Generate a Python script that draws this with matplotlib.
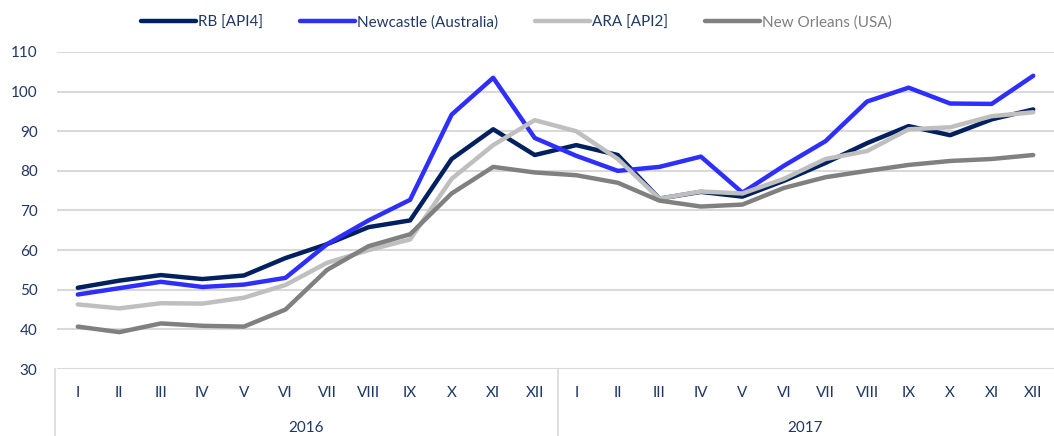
import matplotlib.pyplot as plt
from matplotlib.lines import Line2D

# dane miesięczne 2016-2017
months = ['I', 'II', 'III', 'IV', 'V', 'VI', 'VII', 'VIII', 'IX', 'X', 'XI', 'XII']
years = ['2016', '2017']

rb_api4 = [50.5, 52.3, 53.7, 52.7, 53.6, 58.0, 61.5, 65.8, 67.5, 83.0, 90.5, 84.0,
           86.5, 84.0, 73.0, 74.7, 73.5, 77.5, 82.0, 87.0, 91.3, 89.0, 93.0, 95.5]
newcastle = [48.8, 50.4, 52.0, 50.7, 51.3, 53.0, 61.5, 67.5, 72.7, 94.2, 103.5, 88.3,
             83.8, 80.0, 81.0, 83.6, 74.5, 81.3, 87.5, 97.5, 101.0, 97.0, 96.9, 104.0]
ara_api2 = [46.3, 45.3, 46.6, 46.5, 48.0, 51.2, 56.8, 60.0, 62.7, 78.0, 86.5, 92.8,
            90.0, 83.0, 73.0, 74.8, 74.3, 78.0, 83.0, 85.0, 90.5, 91.0, 93.8, 94.8]
new_orleans = [40.7, 39.3, 41.5, 40.9, 40.7, 45.0, 55.0, 61.0, 64.0, 74.3, 81.0, 79.6,
               78.9, 77.0, 72.5, 71.0, 71.5, 75.7, 78.4, 80.0, 81.5, 82.5, 83.0, 84.0]

plt.rcParams['font.family'] = ['Lato', 'DejaVu Sans']
txt_col = '#1F3864'

fig = plt.figure(figsize=(10.54, 4.36), dpi=100)
ax = fig.add_axes([57 / 1054, 1 - 369 / 436, 1 - 57 / 1054, (369 - 52) / 436])

x = list(range(len(rb_api4)))
ax.plot(x, rb_api4, color='#002060', lw=3.2, label='RB [API4]', solid_capstyle='round')
ax.plot(x, newcastle, color='#2E2EFF', lw=3.2, label='Newcastle (Australia)', solid_capstyle='round')
ax.plot(x, ara_api2, color='#BFBFBF', lw=3.2, label='ARA [API2]', solid_capstyle='round')
ax.plot(x, new_orleans, color='#808080', lw=3.2, label='New Orleans (USA)', solid_capstyle='round')

ax.set_xlim(-0.5, len(x) - 0.5)
ax.set_ylim(30, 110)
ax.set_yticks(range(30, 111, 10))
ax.yaxis.grid(True, color='#D9D9D9', lw=1.5)
ax.set_axisbelow(True)
for s in ax.spines.values():
    s.set_visible(False)
ax.set_xticks([])
ax.tick_params(axis='y', length=0, labelsize=11, labelcolor=txt_col, pad=14)

# etykiety kategorii pod osią
for i in x:
    fig.text(ax.transData.transform((i, 0))[0] / fig.dpi / 10.54, 1 - 393 / 436,
             months[i % 12], ha='center', va='center', fontsize=11, color=txt_col)
for j, yr in enumerate(years):
    xc = ax.transData.transform((j * 12 + 5.5, 0))[0] / fig.dpi / 10.54
    fig.text(xc, 1 - 428 / 436, yr, ha='center', va='center', fontsize=11, color=txt_col)

for xp in [55, 558]:
    fig.add_artist(Line2D([xp / 1054, xp / 1054], [0, 1 - 369 / 436], color='#D9D9D9', lw=1.2))

leg = fig.legend(loc='center', bbox_to_anchor=(0.49, 0.948), ncol=4, frameon=False,
                 fontsize=11, handlelength=3.6, handletextpad=0.15, columnspacing=2.4)
for t in leg.get_texts():
    t.set_color(txt_col)
leg.get_texts()[-1].set_color('#7F7F7F')

fig.savefig('out.png', dpi=100)
